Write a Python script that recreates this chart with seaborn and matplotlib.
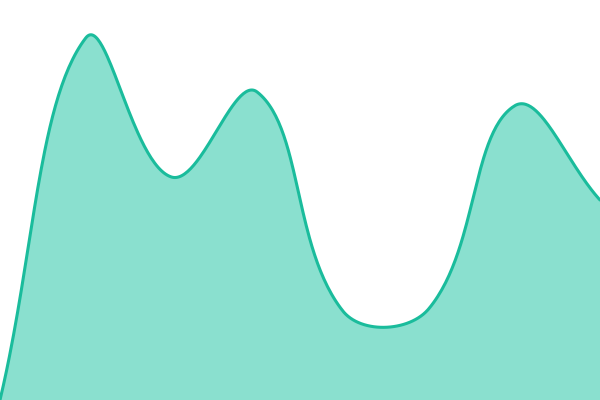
import numpy as np
import pandas as pd
import seaborn as sns
import matplotlib.pyplot as plt

# データ（8点、等間隔）
x_points = [0, 1, 2, 3, 4, 5, 6, 7]
y_points = [0, 362, 223, 308, 89, 91, 294, 200]

LINE_COLOR = "#1abc9c"
FILL_COLOR = "#8ae0cf"
TENSION = 0.4
W, H = 600, 400


# スプライン（距離で重み付けした制御点）をピクセル空間で計算
def SplineCurve(xs, ys, steps=60):
    sx = W / (len(xs) - 1)
    pts = np.column_stack([np.array(xs) * sx, ys]).astype(float)
    n = len(pts)
    out = []
    ctrl_prev = []
    ctrl_next = []
    for i in range(n):
        p0 = pts[max(i - 1, 0)]
        p1 = pts[i]
        p2 = pts[min(i + 1, n - 1)]
        d01 = np.linalg.norm(p1 - p0)
        d12 = np.linalg.norm(p2 - p1)
        s01 = d01 / (d01 + d12)
        s12 = d12 / (d01 + d12)
        fa = TENSION * s01
        fb = TENSION * s12
        ctrl_prev.append(p1 - fa * (p2 - p0))
        ctrl_next.append(p1 + fb * (p2 - p0))
    t = np.linspace(0, 1, steps, endpoint=False)[:, None]
    for i in range(n - 1):
        a, b, c, d = pts[i], ctrl_next[i], ctrl_prev[i + 1], pts[i + 1]
        seg = (1 - t) ** 3 * a + 3 * (1 - t) ** 2 * t * b + 3 * (1 - t) * t**2 * c + t**3 * d
        out.append(seg)
    out.append(pts[-1][None, :])
    res = np.vstack(out)
    res[:, 0] /= sx
    return res


smooth = SplineCurve(x_points, y_points)
df = pd.DataFrame({"x": smooth[:, 0], "y": smooth[:, 1]})

sns.set_style("white")
fig = plt.figure(figsize=(6, 4), dpi=100)
ax = fig.add_axes([0, 0, 1, 1])

ax.fill_between(df["x"], df["y"], 0, color=FILL_COLOR, linewidth=0)
sns.lineplot(data=df, x="x", y="y", ax=ax, color=LINE_COLOR, linewidth=2.2, sort=False)

ax.set_xlim(0, 7)
ax.set_ylim(0, 400)
ax.axis("off")

fig.savefig("out.png", dpi=100)
